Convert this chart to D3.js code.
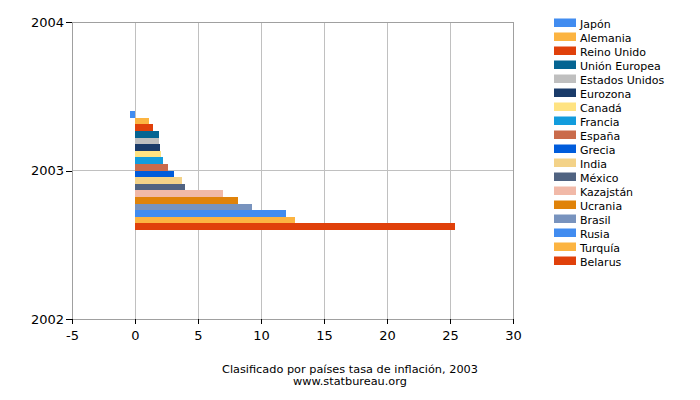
<!DOCTYPE html>
<html>
<head>
<meta charset="utf-8">
<script src="https://d3js.org/d3.v7.min.js"></script>
<style>
	body { margin: 0; background: #fff; }
	svg { font-family: 'DejaVu Sans', sans-serif; }
</style>
</head>
<body>
<div id="chart"></div>
<script>
// Data
const countries = ['Japón', 'Alemania', 'Reino Unido', 'Unión Europea', 'Estados Unidos', 'Eurozona', 'Canadá', 'Francia', 'España', 'Grecia', 'India', 'México', 'Kazajstán', 'Ucrania', 'Brasil', 'Rusia', 'Turquía', 'Belarus'];
const inflation2003 = [-0.4, 1.1, 1.4, 1.9, 1.9, 2.0, 2.1, 2.2, 2.6, 3.1, 3.7, 4.0, 7.0, 8.2, 9.3, 12.0, 12.7, 25.4];
const colors = ['#418CF0', '#FCB441', '#E0400A', '#056492', '#BFBFBF', '#1A3B69', '#FFE382', '#129CDD', '#CA6B4B', '#005CDB', '#F3D288', '#506381', '#F1B9A8', '#E0830A', '#7893BE', '#418CF0', '#FCB441', '#E0400A'];
const year = 2003;
const xTicks = [-5, 0, 5, 10, 15, 20, 25, 30];
const yTicks = [2002, 2003, 2004];

const width = 700, height = 400;
const plot = { left: 72, right: 513, top: 22, bottom: 319 };

const svg = d3.select('#chart').append('svg')
	.attr('width', width)
	.attr('height', height);

const x = d3.scaleLinear().domain([-5, 30]).range([plot.left, plot.right]);
const y = d3.scaleLinear().domain([2002, 2004]).range([plot.bottom, plot.top]);

// Bars sit in a band around the year
const band = d3.scaleBand()
	.domain(countries)
	.range([y(year + 0.4), y(year - 0.4)])
	.padding(0);

// Grid lines
svg.append('g').selectAll('line')
	.data(xTicks.slice(1, -1))
.join('line')
	.attr('x1', d => x(d)).attr('x2', d => x(d))
	.attr('y1', plot.top).attr('y2', plot.bottom)
	.attr('stroke', '#c0c0c0').attr('stroke-width', 1)
	.attr('shape-rendering', 'crispEdges');

svg.append('line')
	.attr('x1', plot.left).attr('x2', plot.right)
	.attr('y1', y(year)).attr('y2', y(year))
	.attr('stroke', '#c0c0c0')
	.attr('shape-rendering', 'crispEdges');

// Bars
svg.append('g').selectAll('rect')
	.data(countries)
.join('rect')
	.attr('x', (d, i) => x(Math.min(0, inflation2003[i])))
	.attr('width', (d, i) => Math.abs(x(inflation2003[i]) - x(0)))
	.attr('y', d => band(d))
	.attr('height', band.bandwidth())
	.attr('fill', (d, i) => colors[i])
	.attr('shape-rendering', 'crispEdges');

// Plot frame
svg.append('rect')
	.attr('x', plot.left).attr('y', plot.top)
	.attr('width', plot.right - plot.left)
	.attr('height', plot.bottom - plot.top)
	.attr('fill', 'none')
	.attr('stroke', '#a0a0a0')
	.attr('shape-rendering', 'crispEdges');

// Axes (plain hyphen for negatives, as in the original)
const xAxis = svg.append('g')
	.attr('transform', `translate(0,${plot.bottom})`)
	.call(d3.axisBottom(x).tickValues(xTicks).tickFormat(d => String(d)).tickSize(5).tickSizeOuter(0));
const yAxis = svg.append('g')
	.attr('transform', `translate(${plot.left},0)`)
	.call(d3.axisLeft(y).tickValues(yTicks).tickFormat(d => String(d)).tickSize(6).tickSizeOuter(0));

[xAxis, yAxis].forEach(axis => {
	axis.select('.domain').remove();
	axis.selectAll('line').attr('stroke', '#000').attr('shape-rendering', 'crispEdges');
	axis.selectAll('text')
		.attr('fill', '#000')
		.style('font-family', "'DejaVu Sans', sans-serif")
		.style('font-size', '13px');
});
xAxis.selectAll('text').attr('dy', '0.95em').attr('y', 9);
yAxis.selectAll('text').attr('x', -8);

// Legend
const legend = svg.append('g').attr('transform', 'translate(554,18.5)');
const items = legend.selectAll('g')
	.data(countries)
.join('g')
	.attr('transform', (d, i) => `translate(0,${i * 14})`);
items.append('rect')
	.attr('width', 22).attr('height', 8.5)
	.attr('fill', (d, i) => colors[i]);
items.append('text')
	.attr('x', 26).attr('y', 9.5)
	.style('font-size', '11px')
	.attr('fill', '#000')
	.text(d => d);

// Caption
svg.append('text')
	.attr('x', 350).attr('y', 373)
	.attr('text-anchor', 'middle')
	.style('font-size', '11.3px')
	.attr('fill', '#000')
	.text('Clasificado por países tasa de inflación, 2003');
svg.append('text')
	.attr('x', 350).attr('y', 385)
	.attr('text-anchor', 'middle')
	.style('font-size', '11.3px')
	.attr('fill', '#000')
	.text('www.statbureau.org');
</script>
</body>
</html>
